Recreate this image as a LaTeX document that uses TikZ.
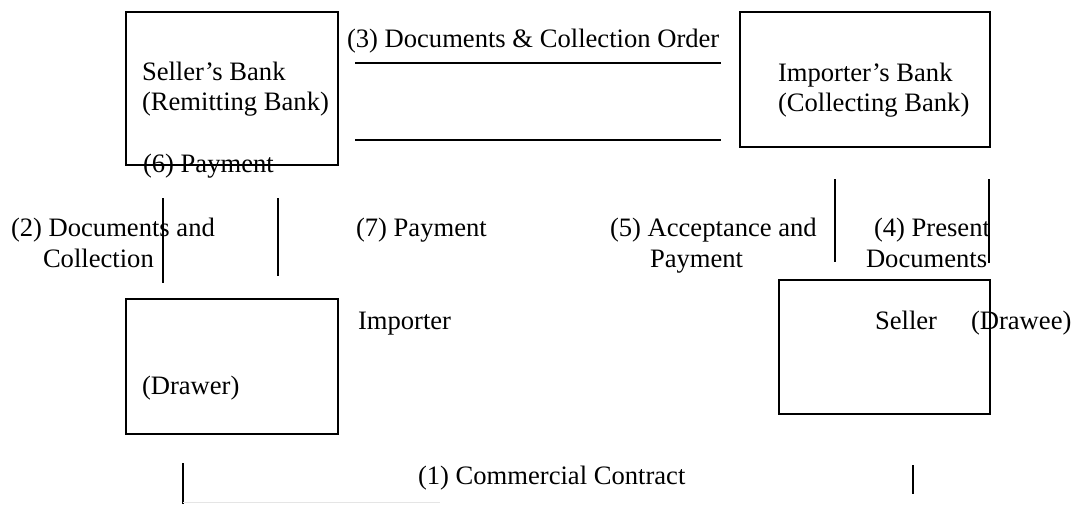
\documentclass[tikz,border=0pt]{standalone}
\usepackage{fontspec}
\setmainfont{Liberation Serif}
\begin{document}
\begin{tikzpicture}[x=1pt,y=-1pt,
  party/.style={draw, line width=1.5pt, inner sep=0pt, anchor=north west},
  rule/.style={line width=1.5pt},
  lbl/.style={anchor=base west, inner sep=0pt, outer sep=0pt,
              font=\fontsize{26.6}{31}\selectfont}]
\useasboundingbox (0,0) rectangle (1076,504);

% the four parties
\node[party, minimum width=212pt, minimum height=153pt] (remit) at (125,11) {};
\node[party, minimum width=250pt, minimum height=135pt] (collect) at (739,11) {};
\node[party, minimum width=212pt, minimum height=135pt] (drawer) at (125,298) {};
\node[party, minimum width=211pt, minimum height=134pt] (drawee) at (778,279) {};

% labels inside and around the boxes
\node[lbl] (t1) at (142,80) {Seller’s Bank};
\node[lbl] (t2) at (142,110) {(Remitting Bank)};
\node[lbl] (t3) at (143,172) {(6) Payment};
\node[lbl] (t4) at (778,81) {Importer’s Bank};
\node[lbl] (t5) at (778,111) {(Collecting Bank)};
\node[lbl] (t6) at (347,47) {(3) Documents \& Collection Order};
\node[lbl] (t7) at (11,236) {(2) Documents and};
\node[lbl] (t8) at (43,267) {Collection};
\node[lbl] (t9) at (356,236) {(7) Payment};
\node[lbl] (t10) at (610,236) {(5) Acceptance and};
\node[lbl] (t11) at (650,267) {Payment};
\node[lbl] (t12) at (874,236) {(4) Present};
\node[lbl] (t13) at (866,267) {Documents};
\node[lbl] (t14) at (358,329) {Importer};
\node[lbl] (t15) at (875,329) {Seller};
\node[lbl] (t16) at (971,329) {(Drawee)};
\node[lbl] (t17) at (142,394) {(Drawer)};
\node[lbl] (t18) at (418,484) {(1) Commercial Contract};

% end points of the flow lines
\coordinate (a1) at (355,63);  \coordinate (a2) at (721,63);
\coordinate (b1) at (355,140); \coordinate (b2) at (721,140);
\coordinate (c1) at (163,198); \coordinate (c2) at (163,283);
\coordinate (d1) at (278,198); \coordinate (d2) at (278,276);
\coordinate (e1) at (835,179); \coordinate (e2) at (835,262);
\coordinate (f1) at (989,179); \coordinate (f2) at (989,263);
\coordinate (g1) at (183,463); \coordinate (g2) at (183,504);
\coordinate (h1) at (913,465); \coordinate (h2) at (913,494);
\coordinate (k1) at (183,502); \coordinate (k2) at (440,502);

\draw[rule] (a1) -- (a2);
\draw[rule] (b1) -- (b2);
\draw[rule] (c1) -- (c2);
\draw[rule] (d1) -- (d2);
\draw[rule] (e1) -- (e2);
\draw[rule] (f1) -- (f2);
\draw[rule] (g1) -- (g2);
\draw[rule] (h1) -- (h2);
\draw[line width=1pt, black!10] (k1) -- (k2);
\end{tikzpicture}
\end{document}
